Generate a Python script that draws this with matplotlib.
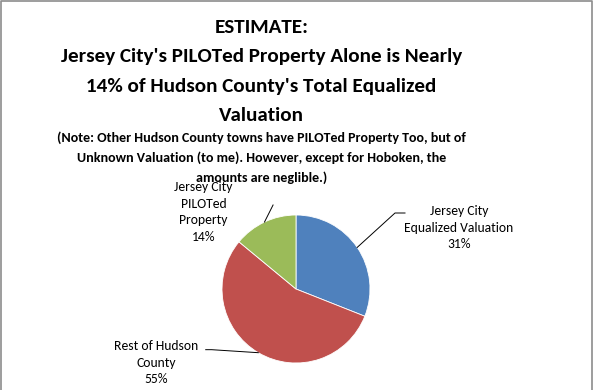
import numpy as np
import matplotlib
matplotlib.use("Agg")
import matplotlib.pyplot as plt

# data
labels = ["Jersey City\nEqualized Valuation", "Rest of Hudson\nCounty", "Jersey City\nPILOTed\nProperty"]
shares = [31, 55, 14]
colors = ["#4F81BD", "#C0504D", "#9BBB59"]

title_lines = ["ESTIMATE:", "Jersey City's PILOTed Property Alone is Nearly",
               "14% of Hudson County's Total Equalized", "Valuation"]
note_lines = ["(Note: Other Hudson County towns have PILOTed Property Too, but of",
              "Unknown Valuation (to me). However, except for Hoboken, the",
              "amounts are neglible.)"]

plt.rcParams['font.family'] = ['Carlito', 'DejaVu Sans']

W, H = 593, 390
fig = plt.figure(figsize=(W / 100, H / 100), dpi=100)
fig.patch.set_facecolor("white")

# grey frame (left, top, right)
fig.add_artist(plt.Line2D([0.5 / W, 0.5 / W, (W - 1.5) / W, (W - 1.5) / W],
                          [0, 1 - 0.5 / H, 1 - 0.5 / H, 0],
                          transform=fig.transFigure, color="#8c8c8c", lw=1.2))

# title and note, one line at a time (baselines in px from top)
for i, line in enumerate(title_lines):
    fig.text(261.5 / W, 1 - (33 + 29.3 * i) / H, line, ha="center", va="baseline",
             fontsize=15.2, fontweight="bold")
for i, line in enumerate(note_lines):
    fig.text(261.5 / W, 1 - (142 + 20 * i) / H, line, ha="center", va="baseline",
             fontsize=10.1, fontweight="bold")

# pie: center (296, 289) px, radius 74 px
cx, cy, r = 296, 289, 74
ax = fig.add_axes([(cx - r) / W, (H - cy - r) / H, 2 * r / W, 2 * r / H])
wedges, _ = ax.pie(shares, colors=colors, startangle=90, counterclock=False,
                   wedgeprops=dict(edgecolor="white", linewidth=0.6))
ax.set_xlim(-1, 1)
ax.set_ylim(-1, 1)
ax.axis("off")

# leader lines + labels (elbow points and text spots in pie-radius units)
elbows = [[(1.338, 1.027), (1.473, 1.027)],
          [(-1.14, -0.82), (-1.22, -0.82)],
          [(-0.31, 1.135)]]
text_pos = [(2.2, 1.135), (-1.89, -0.69), (-1.25, 1.455)]
total = sum(shares)
start = 90.0
for w, lab, val, el, tp in zip(wedges, labels, shares, elbows, text_pos):
    mid = np.deg2rad(start - val / total * 360 / 2)
    start -= val / total * 360
    pts = [(np.cos(mid), np.sin(mid))] + el
    xs, ys = zip(*pts)
    ax.plot(xs, ys, color="black", lw=0.7, clip_on=False)
    ax.text(tp[0], tp[1], f"{lab}\n{val}%", ha="center", va="top", fontsize=9.8,
            linespacing=1.45, clip_on=False)

fig.savefig("out.png", dpi=100)
